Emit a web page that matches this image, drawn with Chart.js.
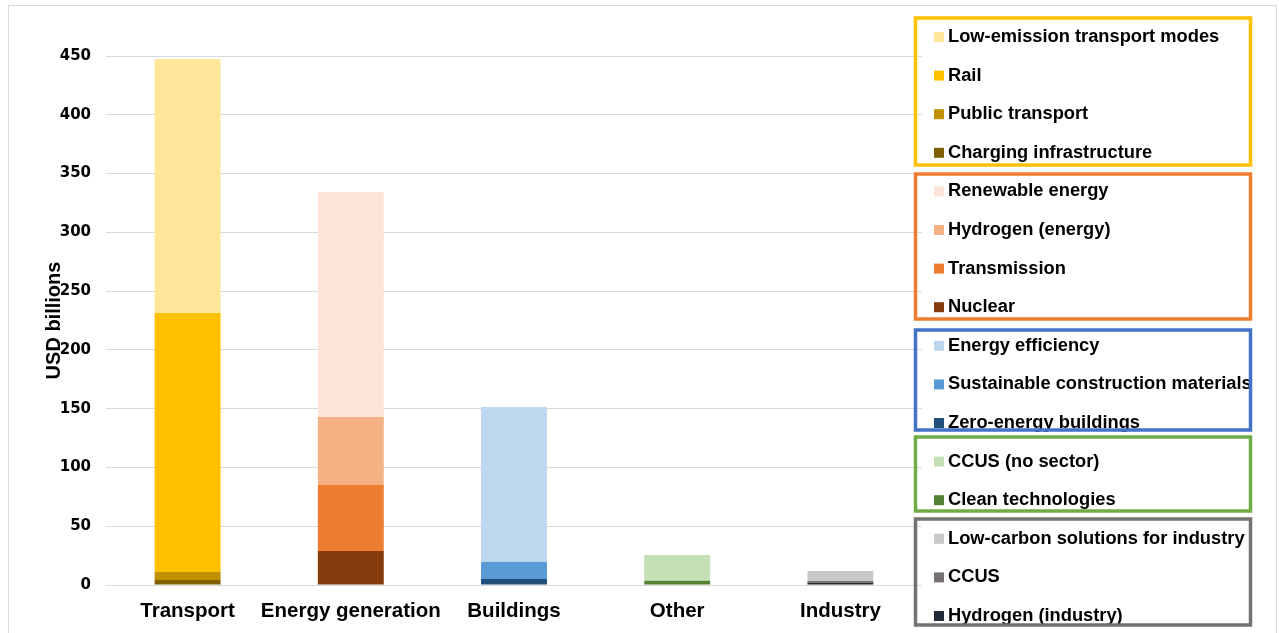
<!DOCTYPE html>
<html>
<head>
<meta charset="utf-8">
<title>Green investment by sector</title>
<script src="https://cdn.jsdelivr.net/npm/chart.js@4.4.1/dist/chart.umd.min.js"></script>
<style>
  html, body { margin: 0; padding: 0; background: #fff; }
  #wrap { width: 1279px; height: 633px; position: relative; }
</style>
</head>
<body>
<div id="wrap"><canvas id="chart-area1"></canvas></div>
<script>
// sectors along the x axis
var sectors = ['Transport', 'Energy generation', 'Buildings', 'Other', 'Industry'];
var yTicks = [0, 50, 100, 150, 200, 250, 300, 350, 400, 450];

// USD billions per sector, one array per sub-category (bottom of stack first)
var chargingInfra   = [4.2, 0, 0, 0, 0];
var publicTransport = [6.8, 0, 0, 0, 0];
var rail            = [220.4, 0, 0, 0, 0];
var lowEmission     = [216, 0, 0, 0, 0];

var nuclear         = [0, 29, 0, 0, 0];
var transmission    = [0, 56, 0, 0, 0];
var hydrogenEnergy  = [0, 58, 0, 0, 0];
var renewable       = [0, 191.3, 0, 0, 0];

var zeroEnergyBldg  = [0, 0, 5.1, 0, 0];
var sustConstruct   = [0, 0, 14.5, 0, 0];
var energyEff       = [0, 0, 131.8, 0, 0];

var cleanTech       = [0, 0, 0, 3.7, 0];
var ccusNoSector    = [0, 0, 0, 21.8, 0];

var hydrogenInd     = [0, 0, 0, 0, 2];
var ccusInd         = [0, 0, 0, 0, 1.4];
var lowCarbonInd    = [0, 0, 0, 0, 8.6];

var datasets = [
  { label: 'Charging infrastructure', data: chargingInfra, backgroundColor: '#7F6000' },
  { label: 'Public transport', data: publicTransport, backgroundColor: '#BF9000' },
  { label: 'Rail', data: rail, backgroundColor: '#FFC000' },
  { label: 'Low-emission transport modes', data: lowEmission, backgroundColor: '#FFE699' },
  { label: 'Nuclear', data: nuclear, backgroundColor: '#843C0C' },
  { label: 'Transmission', data: transmission, backgroundColor: '#ED7D31' },
  { label: 'Hydrogen (energy)', data: hydrogenEnergy, backgroundColor: '#F4B183' },
  { label: 'Renewable energy', data: renewable, backgroundColor: '#FBE5D6' },
  { label: 'Zero-energy buildings', data: zeroEnergyBldg, backgroundColor: '#1F4E79' },
  { label: 'Sustainable construction materials', data: sustConstruct, backgroundColor: '#5B9BD5' },
  { label: 'Energy efficiency', data: energyEff, backgroundColor: '#BDD7EE' },
  { label: 'Clean technologies', data: cleanTech, backgroundColor: '#548235' },
  { label: 'CCUS (no sector)', data: ccusNoSector, backgroundColor: '#C5E0B4' },
  { label: 'Hydrogen (industry)', data: hydrogenInd, backgroundColor: '#222A35' },
  { label: 'CCUS', data: ccusInd, backgroundColor: '#767171' },
  { label: 'Low-carbon solutions for industry', data: lowCarbonInd, backgroundColor: '#C9C9C9' }
];

// legend boxes: dataset indexes listed top to bottom
var legendGroups = [
  { border: '#FFC000', items: [3, 2, 1, 0], top: 18, bottom: 165 },
  { border: '#ED7D31', items: [7, 6, 5, 4], top: 174, bottom: 319 },
  { border: '#4472C4', items: [10, 9, 8], top: 330, bottom: 430 },
  { border: '#70AD47', items: [12, 11], top: 437, bottom: 511 },
  { border: '#767171', items: [15, 14, 13], top: 519, bottom: 625 }
];

var groupedLegend = {
  id: 'groupedLegend',
  beforeDraw: function(chart) {
    var c = chart.ctx;
    c.save();
    c.fillStyle = '#fff';
    c.fillRect(0, 0, chart.width, chart.height);
    c.strokeStyle = '#D9D9D9';
    c.lineWidth = 1;
    c.strokeRect(8.5, 5.5, 1268, 640);
    c.restore();
  },
  afterDraw: function(chart) {
    var c = chart.ctx;
    var row = 0;
    c.save();
    c.font = 'bold 18.3px "Liberation Sans", Arial, sans-serif';
    c.textBaseline = 'middle';
    c.textAlign = 'left';
    legendGroups.forEach(function(g) {
      g.items.forEach(function(idx) {
        var ds = chart.data.datasets[idx];
        var y = 37 + row * 38.6;
        c.fillStyle = ds.backgroundColor;
        c.fillRect(934, y - 5, 10, 10);
        c.fillStyle = '#000';
        c.fillText(ds.label, 948, y);
        row++;
      });
      c.strokeStyle = g.border;
      c.lineWidth = 3.5;
      c.strokeRect(915.5, g.top, 335, g.bottom - g.top);
    });
    c.restore();
  }
};

var config = {
  type: 'bar',
  data: { labels: sectors, datasets: datasets },
  options: {
    responsive: true,
    maintainAspectRatio: false,
    animation: false,
    datasets: { bar: { categoryPercentage: 1, barPercentage: 0.404 } },
    layout: { padding: { left: 0, right: 357, top: 56, bottom: 0 } },
    plugins: {
      legend: { display: false },
      tooltip: { enabled: false }
    },
    scales: {
      x: {
        stacked: true,
        grid: { display: false },
        border: { display: false },
        ticks: {
          color: '#000',
          padding: 6,
          autoSkip: false,
          maxRotation: 0,
          minRotation: 0,
          font: { family: '"Liberation Sans", Arial, sans-serif', size: 20.5, weight: 'bold' }
        },
        afterFit: function(scale) { scale.height = 48; }
      },
      y: {
        stacked: true,
        min: 0,
        max: 450,
        afterBuildTicks: function(scale) {
          scale.ticks = yTicks.map(function(v) { return { value: v }; });
        },
        grid: { color: '#D9D9D9', drawTicks: false },
        border: { display: false },
        ticks: {
          color: '#000',
          padding: 15,
          font: { family: '"DejaVu Sans", Verdana, sans-serif', size: 15, weight: 'bold' }
        },
        title: {
          display: true,
          text: 'USD billions',
          color: '#000',
          padding: { top: 42, bottom: 0 },
          font: { family: '"Liberation Sans", Arial, sans-serif', size: 20, weight: 'bold' }
        },
        afterFit: function(scale) { scale.width = 106; }
      }
    }
  },
  plugins: [groupedLegend]
};

var ctx = document.getElementById('chart-area1');
window.myBar = new Chart(ctx, config);
</script>
</body>
</html>
